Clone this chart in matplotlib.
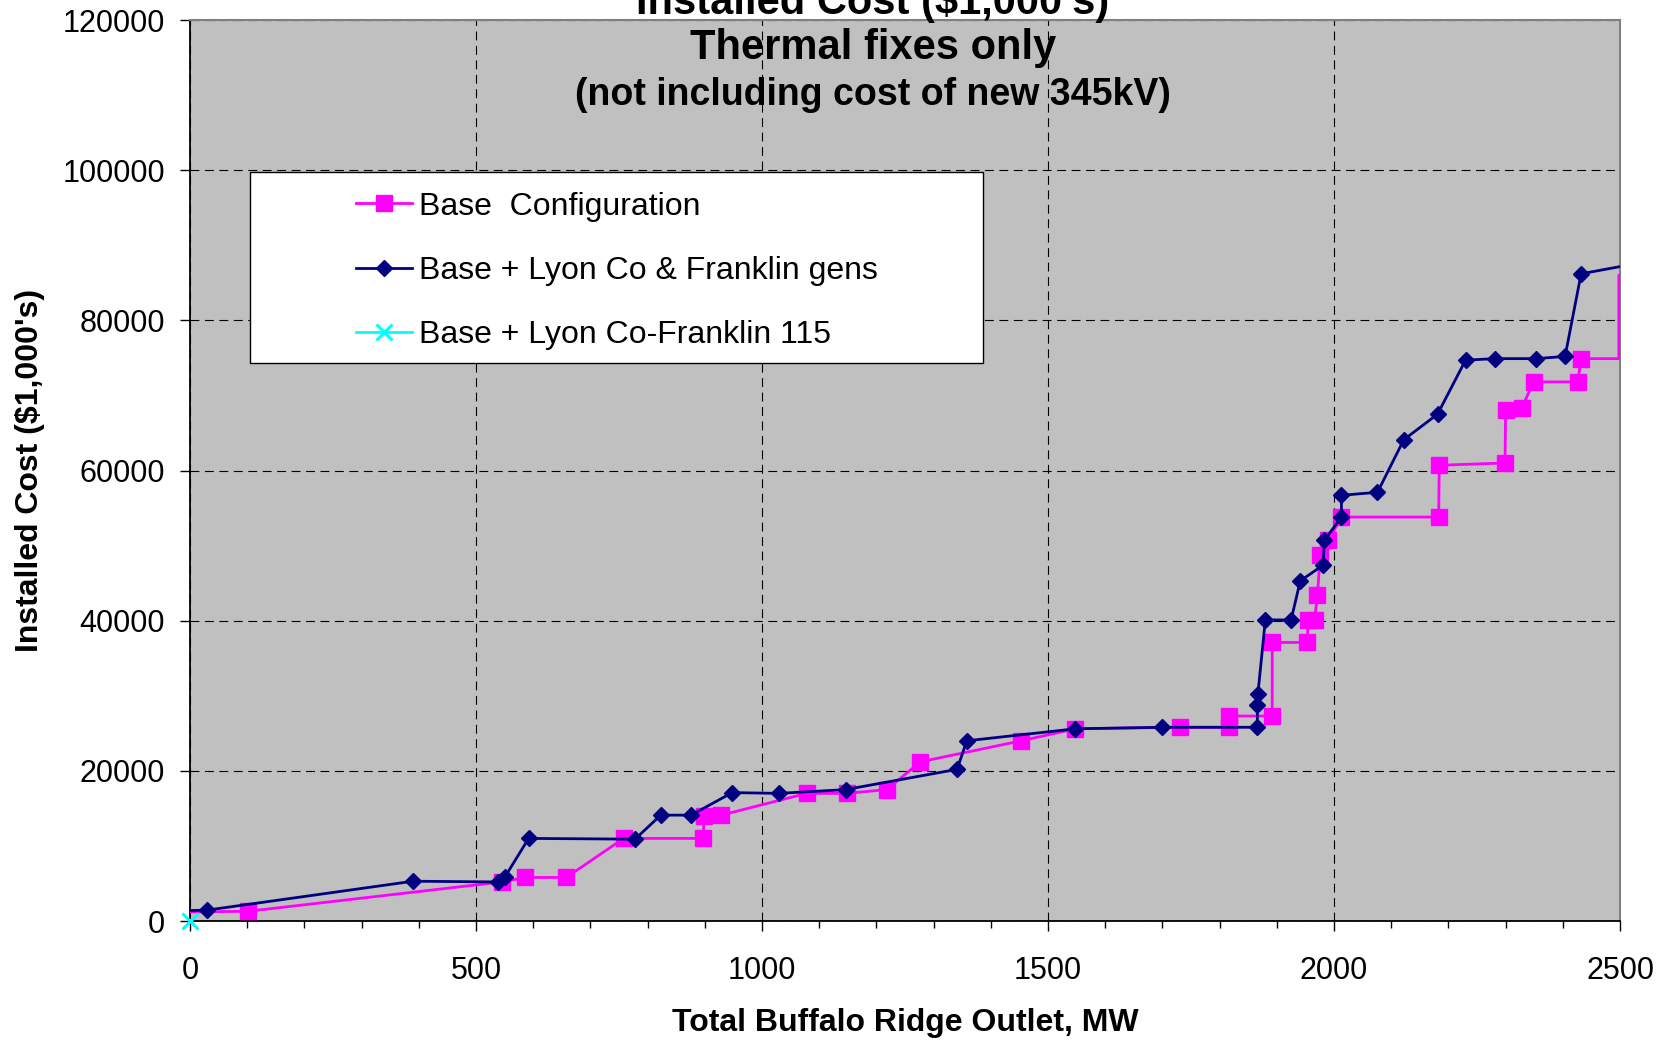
import matplotlib.pyplot as plt
from matplotlib.patches import Rectangle
from matplotlib.ticker import MultipleLocator

plt.rcParams['font.family'] = ['Liberation Sans', 'DejaVu Sans']

# Base Configuration (magenta squares)
base_mw = [0, 102, 545, 586, 658, 758, 897, 899, 929, 1078, 1148, 1218, 1277,
           1453, 1548, 1730, 1816, 1816, 1892, 1892, 1953, 1955, 1966, 1971,
           1976, 1990, 2013, 2183, 2184, 2299, 2300, 2328, 2349, 2426, 2432,
           2498, 2498, 2560]
base_cost = [1200, 1300, 5200, 5800, 5800, 11000, 11000, 14000, 14100, 17000,
             17000, 17500, 21200, 24000, 25600, 25800, 25800, 27300, 27300,
             37100, 37100, 40100, 40100, 43400, 48700, 50700, 53800, 53800,
             60700, 61000, 68000, 68300, 71800, 71800, 74900, 74900, 86000,
             87000]

# Base + Lyon Co & Franklin gens (navy diamonds)
gens_mw = [0, 30, 390, 539, 550, 592, 778, 823, 876, 948, 1030, 1146, 1341,
           1358, 1548, 1699, 1866, 1866, 1867, 1880, 1925, 1941, 1981, 1983,
           2013, 2013, 2076, 2122, 2181, 2230, 2282, 2354, 2404, 2432, 2560]
gens_cost = [1400, 1450, 5300, 5200, 5800, 11000, 10900, 14100, 14100, 17100,
             17000, 17500, 20200, 24000, 25600, 25800, 25800, 28800, 30300,
             40100, 40100, 45300, 47400, 50700, 53800, 56700, 57100, 64100,
             67500, 74700, 74900, 74900, 75200, 86200, 88000]

# Base + Lyon Co-Franklin 115 (cyan x)
line115_mw = [0]
line115_cost = [0]

labels = ['Base  Configuration', 'Base + Lyon Co & Franklin gens',
          'Base + Lyon Co-Franklin 115']

fig = plt.figure(figsize=(16.67, 10.42), dpi=100)
ax = fig.add_axes([0.11398, 0.11612, 0.85783, 0.86468])
ax.set_facecolor('#C0C0C0')

h1, = ax.plot(base_mw, base_cost, color='#FF00FF', lw=2.0, marker='s', ms=11.5,
              mec='#FF00FF', mfc='#FF00FF',
              markevery=list(range(1, len(base_mw) - 3)), zorder=3)
h2, = ax.plot(gens_mw, gens_cost, color='#000080', lw=2.0, marker='D', ms=8.5,
              mec='#000080', mfc='#000080',
              markevery=list(range(1, len(gens_mw) - 1)), zorder=4)
h3, = ax.plot(line115_mw, line115_cost, color='#00FFFF', lw=2.0, marker='x',
              ms=12, mew=2.2, clip_on=False, zorder=5)

ax.set_xlim(0, 2500)
ax.set_ylim(0, 120000)
ax.xaxis.set_major_locator(MultipleLocator(500))
ax.xaxis.set_minor_locator(MultipleLocator(100))
ax.yaxis.set_major_locator(MultipleLocator(20000))

ax.grid(True, which='major', color='black', linestyle=(0, (8, 5)), lw=0.8)
ax.set_axisbelow(True)

for side in ['left', 'bottom']:
    ax.spines[side].set_color('black')
    ax.spines[side].set_linewidth(1.3)
for side in ['top', 'right']:
    ax.spines[side].set_color('#808080')
    ax.spines[side].set_linewidth(1.5)

ax.tick_params(axis='both', which='major', length=7, width=1, labelsize=22,
               direction='out')
ax.tick_params(axis='x', which='minor', length=5, width=1, direction='out')
ax.tick_params(axis='x', which='major', pad=18)
ax.tick_params(axis='y', which='major', pad=11)

ax.set_xlabel('Total Buffalo Ridge Outlet, MW', fontsize=23, fontweight='bold',
              va='center')
ax.xaxis.set_label_coords(0.5, -0.1132)
ax.set_ylabel("Installed Cost ($1,000's)", fontsize=23, fontweight='bold',
              va='center', ha='center')
ax.yaxis.set_label_coords(-0.112, 0.5)

# titles (top line is cut by the image edge, as in the original)
fig.text(0.5237, 0.9866, "Installed Cost ($1,000's)", fontsize=30,
         fontweight='bold', ha='center', va='baseline')
fig.text(0.5237, 0.9434, 'Thermal fixes only', fontsize=30,
         fontweight='bold', ha='center', va='baseline')
fig.text(0.5237, 0.8992, '(not including cost of new 345kV)', fontsize=27,
         fontweight='bold', ha='center', va='baseline')

# legend box
ax.add_patch(Rectangle((0.0418, 0.6196), 0.5125, 0.212, transform=ax.transAxes,
                       facecolor='white', edgecolor='black', lw=1, zorder=6))
leg = ax.legend([h1, h2, h3], labels, loc='upper left',
                bbox_to_anchor=(0.116, 0.8095), frameon=False, borderpad=0,
                borderaxespad=0, handlelength=1.76, handletextpad=0.22,
                labelspacing=1.075, fontsize=23, numpoints=1)
leg.set_zorder(7)

fig.savefig('out.png', dpi=100)
